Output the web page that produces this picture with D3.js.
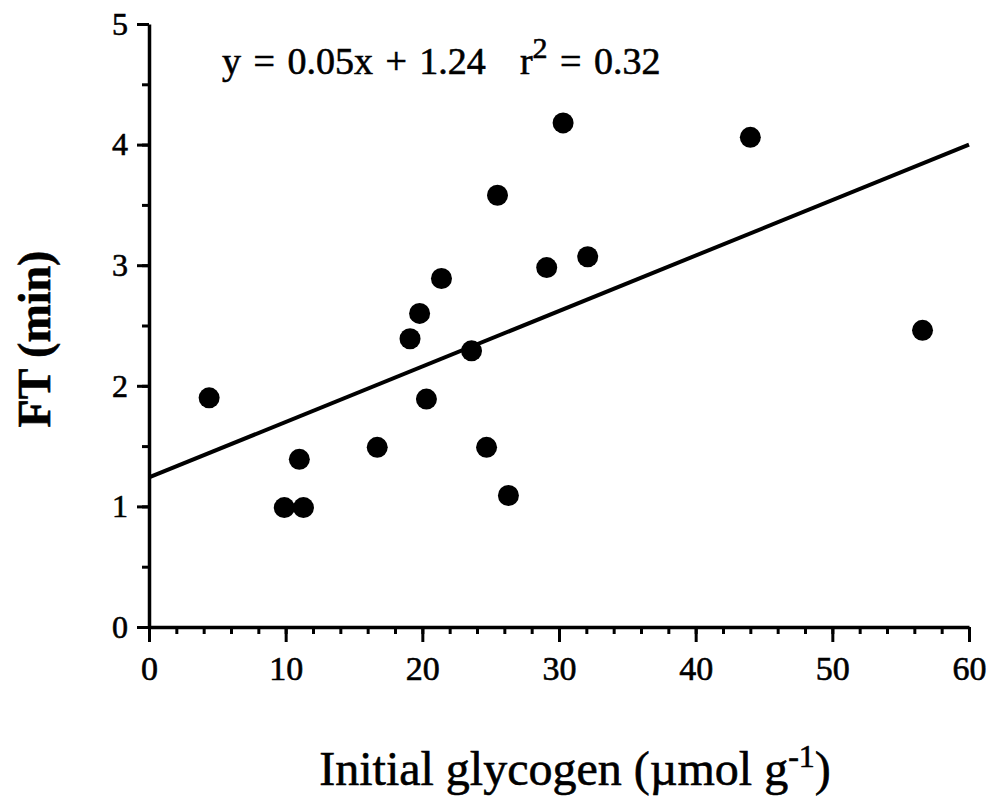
<!DOCTYPE html>
<html>
<head>
<meta charset="utf-8">
<script src="https://cdn.jsdelivr.net/npm/d3@7"></script>
<style>
  body { margin: 0; background: #fff; }
  text { font-family: "Liberation Serif", "Times New Roman", serif; fill: #000; stroke: #000; stroke-width: 0.6px; }
</style>
</head>
<body>
<svg id="chart" width="997" height="802"></svg>
<script>
// Initial muscle glycogen (µmol g-1) and FT (min) for each subject
const glycogen = [4.4, 9.9, 11.3, 11.0, 16.7, 19.1, 19.8, 20.3, 21.4, 23.6, 24.7, 25.5, 26.3, 29.1, 30.3, 32.1, 44.0, 56.6];
const ft       = [1.90, 0.99, 0.99, 1.39, 1.49, 2.39, 2.60, 1.89, 2.89, 2.29, 1.49, 3.58, 1.09, 2.98, 4.18, 3.07, 4.06, 2.46];

// Axis ticks
const xTicks = [0, 10, 20, 30, 40, 50, 60];
const xMinorTicks = d3.range(0, 61, 2);
const yTicks = [0, 1, 2, 3, 4, 5];
const yMinorTicks = d3.range(0, 5.01, 0.5);

// Least-squares line
const fitSlope = 0.046;
const fitIntercept = 1.24;
const rSquared = 0.32;

const svg = d3.select("#chart");
const x = d3.scaleLinear().domain([0, 60]).range([149, 969]);
const y = d3.scaleLinear().domain([0, 5]).range([627, 24]);

// X axis: minor ticks every 2, labelled major ticks every 10
svg.append("g")
  .attr("transform", `translate(0,${y(0)})`)
  .call(d3.axisBottom(x).tickValues(xMinorTicks).tickSize(7).tickFormat(""))
  .call(g => g.select(".domain").remove())
  .selectAll("line").attr("stroke", "#000").attr("stroke-width", 3);

const gx = svg.append("g")
  .attr("transform", `translate(0,${y(0)})`)
  .call(d3.axisBottom(x).tickValues(xTicks).tickSize(15).tickSizeOuter(0).tickPadding(14).tickFormat(d3.format("d")));
gx.select(".domain").attr("stroke", "#000").attr("stroke-width", 3.5);
gx.selectAll(".tick line").attr("stroke", "#000").attr("stroke-width", 3);
gx.selectAll(".tick text").attr("font-size", 34);

// Y axis: minor ticks every 0.5, labelled major ticks every 1
svg.append("g")
  .attr("transform", `translate(${x(0)},0)`)
  .call(d3.axisLeft(y).tickValues(yMinorTicks).tickSize(7).tickFormat(""))
  .call(g => g.select(".domain").remove())
  .selectAll("line").attr("stroke", "#000").attr("stroke-width", 3);

const gy = svg.append("g")
  .attr("transform", `translate(${x(0)},0)`)
  .call(d3.axisLeft(y).tickValues(yTicks).tickSize(12).tickSizeOuter(0).tickPadding(9).tickFormat(d3.format("d")));
gy.select(".domain").attr("stroke", "#000").attr("stroke-width", 3.5);
gy.selectAll(".tick line").attr("stroke", "#000").attr("stroke-width", 3);
gy.selectAll(".tick text").attr("font-size", 32);

// Regression line across the x range
const fitLine = d3.line().x(d => x(d)).y(d => y(fitIntercept + fitSlope * d));
svg.append("path")
  .datum(x.domain())
  .attr("d", fitLine)
  .attr("fill", "none")
  .attr("stroke", "#000")
  .attr("stroke-width", 4);

// Data points
svg.append("g")
  .selectAll("circle")
  .data(d3.zip(glycogen, ft))
  .join("circle")
  .attr("cx", d => x(d[0]))
  .attr("cy", d => y(d[1]))
  .attr("r", 10.5)
  .attr("fill", "#000");

// Regression equation
const eq = svg.append("text")
  .attr("x", 222).attr("y", 74)
  .attr("font-size", 38)
  .style("word-spacing", "3px");
eq.append("tspan").text(`y = ${d3.format(".2f")(fitSlope)}x + ${d3.format(".2f")(fitIntercept)}`);
eq.append("tspan").attr("dx", 34).text("r");
eq.append("tspan").attr("dy", -16).attr("font-size", 30).text("2");
eq.append("tspan").attr("dy", 16).text(` = ${d3.format(".2f")(rSquared)}`);

// Axis titles
const xt = svg.append("text")
  .attr("x", 575).attr("y", 785)
  .attr("text-anchor", "middle")
  .attr("font-size", 48);
xt.append("tspan").text("Initial glycogen (µmol g");
xt.append("tspan").attr("dy", -18).attr("font-size", 32).text("-1");
xt.append("tspan").attr("dy", 18).text(")");

svg.append("text")
  .attr("transform", "translate(50,339) rotate(-90)")
  .attr("text-anchor", "middle")
  .attr("font-size", 46)
  .attr("font-weight", "bold")
  .text("FT (min)");
</script>
</body>
</html>
